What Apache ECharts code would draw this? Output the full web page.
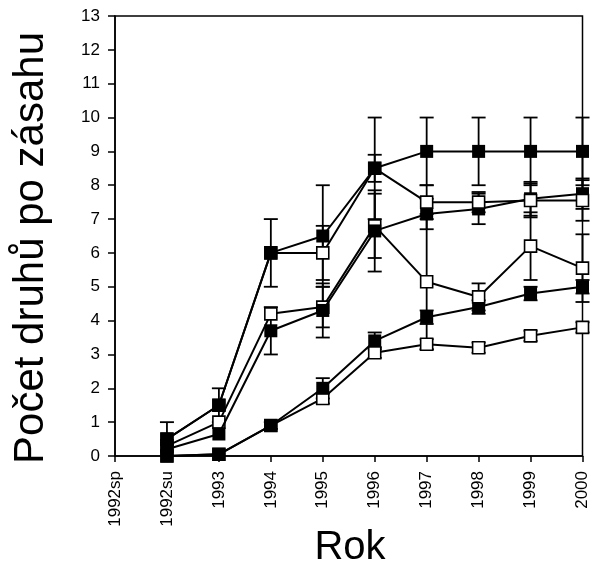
<!DOCTYPE html>
<html><head><meta charset="utf-8">
<script src="https://cdn.jsdelivr.net/npm/echarts@6/dist/echarts.min.js"></script>
<style>html,body{margin:0;padding:0;background:#fff}#c{width:591px;height:567px}</style>
</head><body><div id="c"></div>
<script>
const categories = ['1992sp','1992su','1993','1994','1995','1996','1997','1998','1999','2000'];
const yTicks = [0,1,2,3,4,5,6,7,8,9,10,11,12,13];
// filled series
const seriesA = [null,0.5,1.5,6.0,6.5,8.5,9.0,9.0,9.0,9.0];
const errA    = [0,0.5,0.5,1.0,1.5,1.5,1.0,1.0,1.0,1.0];
const seriesD = [null,0.2,0.65,3.7,4.3,6.65,7.15,7.3,7.6,7.75];
const errD    = [0,0,0,0.7,0.8,1.2,0.45,0.45,0.5,0.45];
const seriesE = [null,0.0,0.05,0.9,2.0,3.4,4.1,4.4,4.8,5.0];
const errE    = [0,0,0,0.1,0.3,0.25,0.2,0.2,0.2,0.2];
// open series
const seriesB = [null,0.5,1.5,6.0,6.0,8.5,7.5,7.5,7.55,7.55];
const errB    = [0,0,0,0,0.8,0.4,0.5,0.3,0.5,0.6];
const seriesC = [null,0.3,1.0,4.2,4.4,6.8,5.15,4.7,6.2,5.55];
const errC    = [0,0,0,0,0.6,0.95,2.0,0.4,1.0,1.0];
const seriesF = [null,0.0,0.05,0.9,1.7,3.05,3.3,3.2,3.55,3.8];
const errF    = [0,0,0,0,0.15,0.15,0.15,0.15,0.15,0.15];

const FONT = 'Liberation Sans';
const chart = echarts.init(document.getElementById('c'), null, {renderer:'canvas'});

function errData(vals, errs){
  const out = [];
  vals.forEach((v,i)=>{ if(v!=null && errs[i]>0) out.push([i, v-errs[i], v+errs[i]]); });
  return out;
}
const allErr = [].concat(
  errData(seriesA,errA), errData(seriesB,errB), errData(seriesC,errC),
  errData(seriesD,errD), errData(seriesE,errE), errData(seriesF,errF));

function lineSeries(name, data, open, z){
  return {
    name, type:'line', data, z, clip:false, connectNulls:false,
    symbol:'rect', symbolSize: open ? 12 : 13,
    lineStyle:{color:'#000', width:2},
    itemStyle: open ? {color:'#fff', borderColor:'#000', borderWidth:1.6}
                    : {color:'#000', borderColor:'#000', borderWidth:0},
    emphasis:{disabled:true}, animation:false
  };
}

chart.setOption({
  animation:false,
  backgroundColor:'#fff',
  textStyle:{fontFamily:FONT},
  grid:{left:115, right:5, top:16, bottom:111, show:true, borderColor:'#000', borderWidth:1.5, backgroundColor:'transparent', containLabel:false},
  xAxis:{
    type:'category', data:categories, boundaryGap:false,
    axisLine:{lineStyle:{color:'#000', width:1.5}},
    axisTick:{show:true, length:6, lineStyle:{color:'#000', width:1.5}},
    axisLabel:{rotate:90, color:'#000', fontSize:17, fontFamily:FONT, margin:15, interval:0},
    splitLine:{show:false}
  },
  yAxis:{
    type:'value', min:yTicks[0], max:yTicks[yTicks.length-1], interval:1,
    axisLine:{show:true, lineStyle:{color:'#000', width:1.5}},
    axisTick:{show:true, length:7, lineStyle:{color:'#000', width:1.5}},
    axisLabel:{color:'#000', fontSize:17, fontFamily:FONT, margin:15},
    splitLine:{show:false}
  },
  graphic:[
    {type:'text', x:350, y:548, style:{text:'Rok', fontSize:40, fontFamily:FONT, fill:'#000', textAlign:'center', textVerticalAlign:'middle'}, z:10},
    {type:'text', rotation:Math.PI/2, x:31, y:248, style:{text:'Počet druhů po zásahu', fontSize:42, fontFamily:FONT, fill:'#000', textAlign:'center', textVerticalAlign:'middle'}, z:10}
  ],
  series:[
    {
      type:'custom', z:1, clip:false, data:allErr, encode:{x:0, y:[1,2]},
      renderItem:function(params, api){
        const x = api.value(0);
        const lo = api.coord([x, api.value(1)]);
        const hi = api.coord([x, api.value(2)]);
        const hw = 7;
        const st = {stroke:'#000', lineWidth:1.8};
        return {type:'group', children:[
          {type:'line', shape:{x1:lo[0],y1:lo[1],x2:hi[0],y2:hi[1]}, style:st},
          {type:'line', shape:{x1:lo[0]-hw,y1:lo[1],x2:lo[0]+hw,y2:lo[1]}, style:st},
          {type:'line', shape:{x1:hi[0]-hw,y1:hi[1],x2:hi[0]+hw,y2:hi[1]}, style:st}
        ]};
      }
    },
    lineSeries('F', seriesF, true, 2),
    lineSeries('E', seriesE, false, 3),
    lineSeries('C', seriesC, true, 4),
    lineSeries('D', seriesD, false, 5),
    lineSeries('B', seriesB, true, 6),
    lineSeries('A', seriesA, false, 7)
  ]
});
</script></body></html>
